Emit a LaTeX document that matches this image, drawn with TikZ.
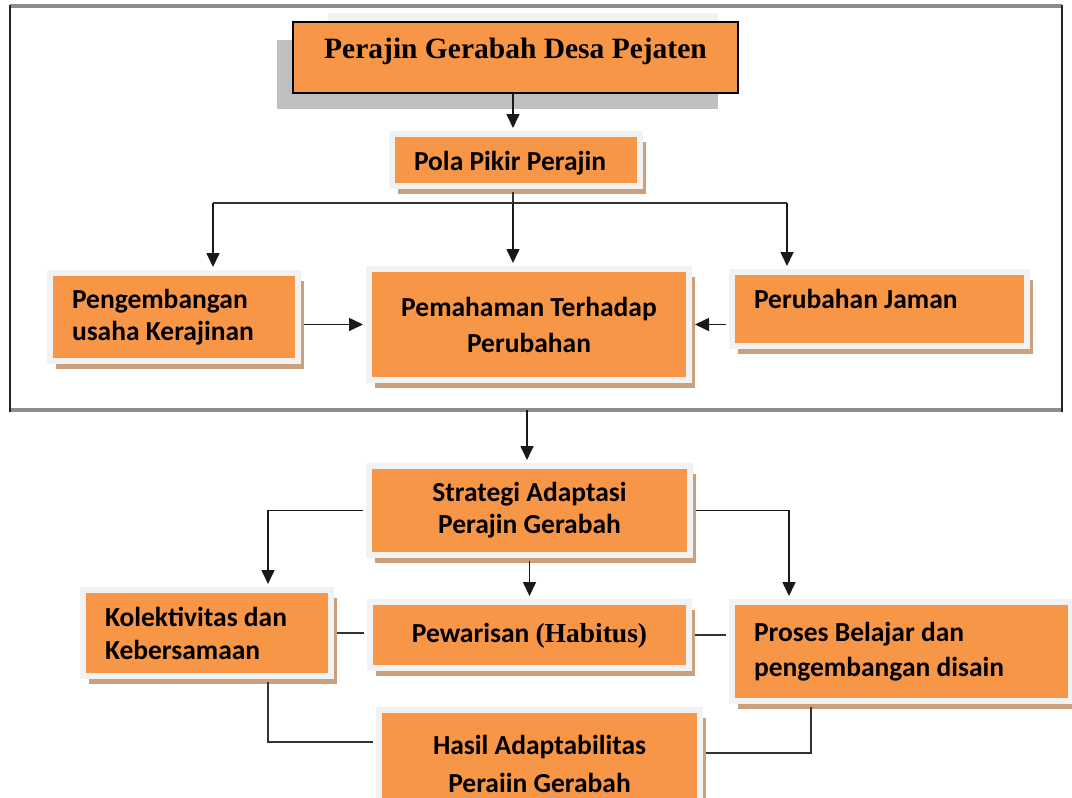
\documentclass[tikz,border=0pt]{standalone}
\usepackage{fontspec}
\usepackage{tikz}
\usetikzlibrary{arrows.meta,shapes,calc,shadows,positioning}
\newfontfamily\hurufkotak{Carlito}
\newfontfamily\hurufjudul{Liberation Serif}
\definecolor{oranye}{HTML}{F79646}
\definecolor{tepi}{HTML}{F2F2F2}
\definecolor{bayang}{RGB}{205,160,125}

\begin{document}
\begin{tikzpicture}[x=1pt,y=-1pt,
  kotak/.style={fill=oranye, draw=tepi, line width=6pt, inner ysep=3pt,
    drop shadow={shadow xshift=6pt, shadow yshift=-8pt, fill=bayang, opacity=1},
    font=\hurufkotak\bfseries\fontsize{27.5}{32}\selectfont,
    execute at begin node={\spaceskip=0pt\xspaceskip=0pt\relax}},
  kiri/.style={align=left, inner xsep=22pt},
  tengah/.style={align=center, inner xsep=0pt},
  panah/.style={-{Triangle[length=14pt,width=13pt]}, line width=1.6pt, black!90, shorten >=3pt},
  garis/.style={line width=1.6pt, black!80},
  darikotak/.style={shorten <=3pt},
  kekotak/.style={shorten >=3pt}]
\useasboundingbox (0,0) rectangle (1072,798);
\draw[black!45, line width=3.5pt] (10,6) -- (1062,6);
\draw[black!45, line width=3.5pt] (10,410) -- (1062,410);
\draw[black!85, line width=2pt] (10,5) -- (10,412);
\draw[black!85, line width=2pt] (1062,5) -- (1062,412);
\fill[gray!10] (328,13) rectangle (718,40);
\fill[gray!50] (277,40) rectangle (718,109);

\node[fill=oranye, draw=black, line width=1.5pt, minimum width=445pt, inner sep=0pt, text height=36pt, text depth=35pt, font=\hurufjudul\bfseries\fontsize{29.5}{34}\selectfont] (judul) at (515.5,57.5) {Perajin Gerabah Desa Pejaten};
\node[kotak, kiri, text width=204pt, text height=33pt, text depth=13pt] (pola) at (516,160) {Pola Pikir Perajin};
\node[kotak, kiri, text width=204pt, minimum height=88pt] (pengembangan) at (174,317) {Pengembangan\\usaha Kerajinan};
\node[kotak, tengah, minimum width=320pt, minimum height=111pt] (pemahaman) at (529,324.5) {Pemahaman Terhadap\\[4pt]Perubahan};
\node[kotak, kiri, text width=251pt, text height=33pt, text depth=35pt] (perubahan) at (879.5,309) {Perubahan Jaman};
\node[kotak, tengah, minimum width=321pt, minimum height=89pt] (strategi) at (529.5,510.5) {Strategi Adaptasi\\Perajin Gerabah};
\node[kotak, kiri, text width=204pt, minimum height=86pt] (kolektivitas) at (207,633) {Kolektivitas dan\\[1pt]Kebersamaan};
\node[kotak, tengah, minimum width=319pt, text height=37pt, text depth=23pt] (pewarisan) at (529.5,635) {Pewarisan {\hurufjudul\fontsize{27.5}{32}\selectfont(Habitus)}};
\node[kotak, kiri, text width=295pt, minimum height=99pt] (proses) at (901.5,651.5) {Proses Belajar dan\\[3pt]pengembangan disain};
\node[kotak, tengah, minimum width=321pt, minimum height=107pt] (hasil) at (539.5,763.5) {Hasil Adaptabilitas\\[6pt]Peraiin Gerabah};

\coordinate (cabangM) at (513,203);
\coordinate (cabangK) at (213,203);
\coordinate (cabangR) at (787,203);
\coordinate (bingkaiB) at (527,410);
\coordinate (belokK) at (268,510.5);
\coordinate (belokR) at (789,510.5);
\coordinate (turunK) at (268,742);
\coordinate (turunR) at (811,753);

\draw[panah] (cabangM |- judul.south) -- (cabangM |- pola.north);
\draw[garis, darikotak] (cabangM |- pola.south) -- (cabangM);
\draw[garis] (cabangK) -- (cabangR);
\draw[panah] (cabangK) -- (cabangK |- pengembangan.north);
\draw[panah] (cabangM) -- (cabangM |- pemahaman.north);
\draw[panah] (cabangR) -- (cabangR |- perubahan.north);
\draw[panah, darikotak] (pengembangan.east |- pemahaman.west) -- (pemahaman.west);
\draw[panah, darikotak] (perubahan.west |- pemahaman.east) -- (pemahaman.east);
\draw[panah] (bingkaiB) -- (bingkaiB |- strategi.north);
\draw[panah, darikotak] (strategi.west) -- (belokK) -- (belokK |- kolektivitas.north);
\draw[panah, darikotak] (strategi.east) -- (belokR) -- (belokR |- proses.north);
\draw[panah, darikotak] (strategi.south) -- (pewarisan.north);
\draw[garis, darikotak, kekotak] (kolektivitas.east) -- (kolektivitas.east -| pewarisan.west);
\draw[garis, darikotak, kekotak] (pewarisan.east) -- (pewarisan.east -| proses.west);
\draw[garis, darikotak, kekotak] (turunK |- kolektivitas.south) -- (turunK) -- (turunK -| hasil.west);
\draw[garis, darikotak, kekotak] (turunR |- proses.south) -- (turunR) -- (turunR -| hasil.east);
\end{tikzpicture}
\end{document}
